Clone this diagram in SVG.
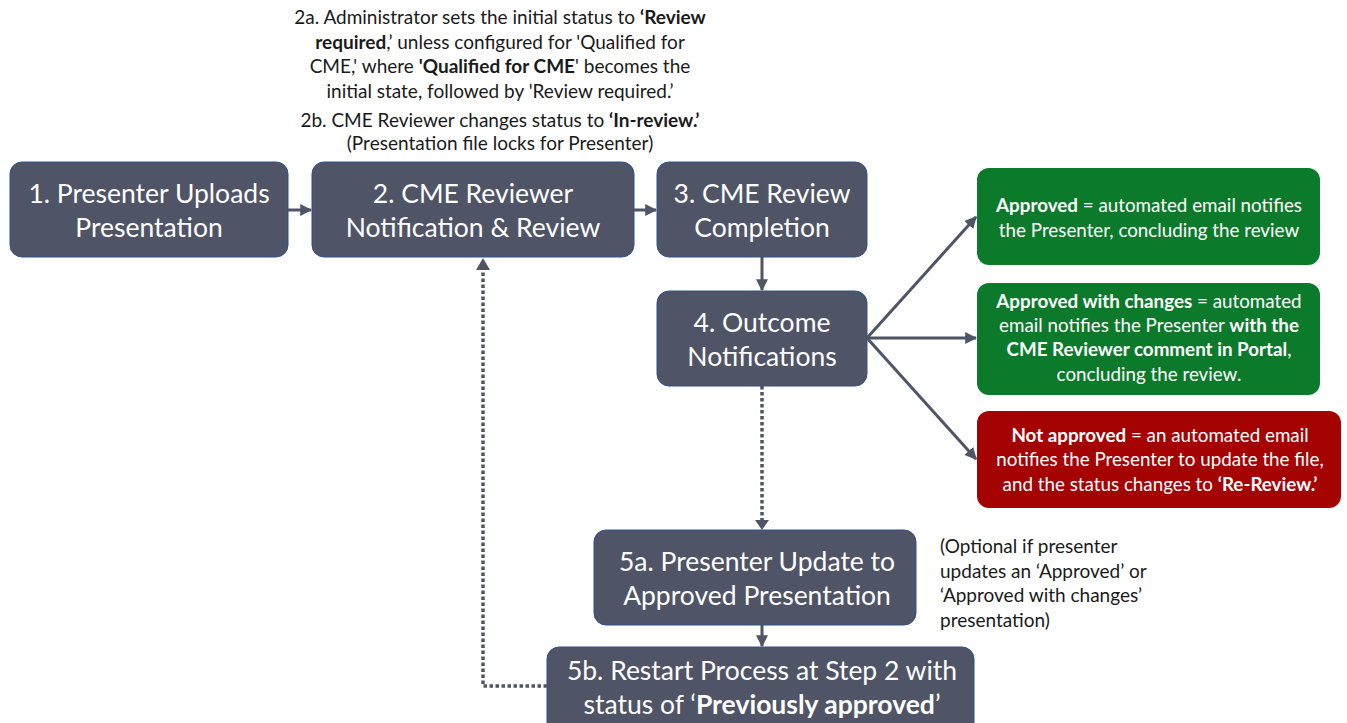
<svg xmlns="http://www.w3.org/2000/svg" width="1347" height="723" viewBox="0 0 1347 723">
<defs>
<marker id="ah" viewBox="0 0 10 10" refX="9" refY="5" markerWidth="4" markerHeight="4" orient="auto" markerUnits="strokeWidth"><path d="M0,0 L10,5 L0,10 z" fill="#4f5566"/></marker>
<style>
.node{fill:#4f5566;stroke:#2f528f;stroke-width:1}
.nt{font-family:Lato,"Liberation Sans",sans-serif;font-size:26.5px;fill:#fff;text-anchor:middle}
.green{fill:#0b7a2b}
.red{fill:#a50202}
.bt{font-family:Lato,"Liberation Sans",sans-serif;font-size:18.8px;fill:#fff;text-anchor:middle}
.note{font-family:Lato,"Liberation Sans",sans-serif;font-size:19px;fill:#1a1a1a}
.b{font-weight:bold}
.conn{stroke:#4f5566;stroke-width:3;fill:none}
.dot{stroke:#4f5566;stroke-width:3.5;fill:none;stroke-dasharray:3.5 2.5}
</style>
</defs>
<g id="note-top" class="note" text-anchor="middle">
<text x="500" y="24">2a. Administrator sets the initial status to <tspan class="b">‘Review</tspan></text>
<text x="500" y="49"><tspan class="b">required</tspan>,’ unless configured for 'Qualified for</text>
<text x="500" y="73">CME,' where <tspan class="b">'Qualified for CME</tspan>' becomes the</text>
<text x="500" y="98">initial state, followed by 'Review required.’</text>
<text x="500" y="127">2b. CME Reviewer changes status to <tspan class="b">‘In-review.’</tspan></text>
<text x="500" y="150">(Presentation file locks for Presenter)</text>
</g>
<g id="n1"><rect class="node" x="10" y="162" width="278" height="95" rx="12"/><text class="nt" x="149" y="203">1. Presenter Uploads</text><text class="nt" x="149" y="237">Presentation</text></g>
<g id="n2"><rect class="node" x="312" y="162" width="322" height="95" rx="12"/><text class="nt" x="473" y="203">2. CME Reviewer</text><text class="nt" x="473" y="237">Notification &amp; Review</text></g>
<g id="n3"><rect class="node" x="657" y="162" width="210" height="95" rx="12"/><text class="nt" x="762" y="203">3. CME Review</text><text class="nt" x="762" y="237">Completion</text></g>
<g id="n4"><rect class="node" x="657" y="291" width="210" height="95" rx="12"/><text class="nt" x="762" y="332">4. Outcome</text><text class="nt" x="762" y="366">Notifications</text></g>
<g id="n5a"><rect class="node" x="594" y="530" width="322" height="95" rx="12"/><text class="nt" x="757" y="571">5a. Presenter Update to</text><text class="nt" x="757" y="605">Approved Presentation</text></g>
<g id="n5b"><rect class="node" x="547" y="647" width="427" height="90" rx="12"/><text class="nt" x="762" y="680">5b. Restart Process at Step 2 with</text><text class="nt" x="762" y="714">status of ‘<tspan class="b">Previously approved</tspan>’</text></g>
<g id="o1"><rect class="green" x="977" y="168" width="343" height="97" rx="12"/><text class="bt" x="1149" y="212"><tspan class="b">Approved</tspan> = automated email notifies</text><text class="bt" x="1149" y="237">the Presenter, concluding the review</text></g>
<g id="o2"><rect class="green" x="977" y="283" width="343" height="112" rx="12"/><text class="bt" x="1149" y="308"><tspan class="b">Approved with changes</tspan> = automated</text><text class="bt" x="1149" y="332">email notifies the Presenter <tspan class="b">with the</tspan></text><text class="bt" x="1149" y="356"><tspan class="b">CME Reviewer comment in Portal</tspan>,</text><text class="bt" x="1149" y="381">concluding the review.</text></g>
<g id="o3"><rect class="red" x="977" y="411" width="364" height="97" rx="12"/><text class="bt" x="1160" y="442"><tspan class="b">Not approved</tspan> = an automated email</text><text class="bt" x="1160" y="466">notifies the Presenter to update the file,</text><text class="bt" x="1160" y="491">and the status changes to <tspan class="b">‘Re-Review.’</tspan></text></g>
<g id="note-5a" class="note">
<text x="940" y="553">(Optional if presenter</text>
<text x="940" y="578">updates an ‘Approved’ or</text>
<text x="940" y="602">‘Approved with changes’</text>
<text x="940" y="627">presentation)</text>
</g>
<g id="connectors">
<line class="conn" x1="288" y1="210" x2="311" y2="210" marker-end="url(#ah)"/>
<line class="conn" x1="634" y1="210" x2="656" y2="210" marker-end="url(#ah)"/>
<line class="conn" x1="762" y1="257" x2="762" y2="290" marker-end="url(#ah)"/>
<line class="conn" x1="867" y1="338" x2="976" y2="217" marker-end="url(#ah)"/>
<line class="conn" x1="867" y1="338" x2="976" y2="338" marker-end="url(#ah)"/>
<line class="conn" x1="867" y1="338" x2="976" y2="459" marker-end="url(#ah)"/>
<line class="dot" x1="762" y1="386" x2="762" y2="522"/>
<path d="M755,520 L769,520 L762,530 z" fill="#4f5566"/>
<line class="conn" x1="762" y1="625" x2="762" y2="646" marker-end="url(#ah)"/>
<path class="dot" d="M547,686 L483,686 L483,268"/>
<path d="M476,270 L490,270 L483,258 z" fill="#4f5566"/>
</g>
</svg>
